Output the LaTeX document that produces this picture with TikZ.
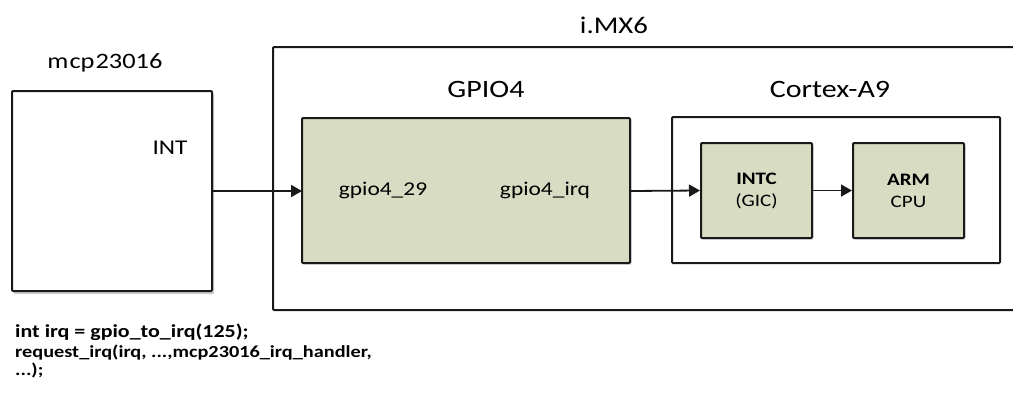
\documentclass[tikz,border=0pt]{standalone}
\usepackage{fontspec}
\setmainfont{Carlito}[FakeStretch=1.2]
\usetikzlibrary{arrows.meta,shadows}
\definecolor{boxfill}{RGB}{215,220,195}
\definecolor{linec}{RGB}{25,25,25}
\tikzset{
  frame/.style={draw=linec,line width=2pt,rounded corners=1pt},
  blockbox/.style={frame,fill=boxfill,drop shadow={shadow xshift=1.5pt,shadow yshift=-1.5pt,opacity=0.35}},
  chipbox/.style={frame,fill=white,drop shadow={shadow xshift=2pt,shadow yshift=-3pt,opacity=0.4}},
  lbl/.style={font=\fontsize{25}{27}\selectfont,inner sep=0pt},
  sig/.style={font=\fontsize{19.5}{22}\selectfont,inner sep=0pt},
  inner/.style={blockbox,minimum width=111pt,minimum height=95pt,align=center,inner sep=0pt,
    font=\fontsize{17.5}{22}\selectfont},
  conn/.style={draw=linec,line width=1.8pt,-{Triangle[length=11pt,width=12pt]}},
  code/.style={anchor=base west,inner sep=0pt},
}
\begin{document}
\begin{tikzpicture}[x=1pt,y=-1pt]
\useasboundingbox (0,0) rectangle (1013,392);
% outer i.MX6 box
\draw[frame] (273,47) rectangle (1025,310);
\node[lbl,font=\fontsize{24}{26}\selectfont] (imx) at (614,25) {i.MX6};
% mcp23016
\draw[chipbox] (12,91) rectangle (212,291);
\coordinate (mcpE) at (212,191);
\node[lbl,font=\fontsize{22}{24}\selectfont] (mcp) at (105,63) {m\kern1pt cp\kern1pt 23016};
\node[sig,font=\fontsize{21}{23}\selectfont] (int) at (170,148) {INT};
% GPIO4
\node[lbl] (gpiolbl) at (486,89) {GPIO4};
\draw[blockbox] (302,118) rectangle (630,263);
\coordinate (gpioW) at (302,191);
\coordinate (gpioE) at (630,191);
\node[sig] (g29) at (383,190) {gpio4\_29};
\node[sig] (girq) at (545,190) {gpio4\_irq};
% Cortex-A9
\node[lbl] (cortexlbl) at (830,89) {Cortex-A9};
\draw[frame] (672,117) rectangle (1000,263);
\node[inner] (intc) at (756.5,190.5) {\textbf{INTC}\\(GIC)};
\node[inner] (arm) at (908.5,190.5) {\textbf{ARM}\\CPU};
% connectors
\draw[conn] (mcpE) -- (gpioW);
\draw[conn] (gpioE) -- (intc.west);
\draw[conn] (intc.east) -- (arm.west);
% code
\node[code,font=\fontsize{18.3}{22}\selectfont\bfseries] (code1) at (15,337) {int irq = gpio\_to\_irq(125);};
\node[code,font=\fontsize{16.9}{20}\selectfont\bfseries] (code2) at (15,357) {request\_irq(irq, ...,mcp23016\_irq\_handler,};
\node[code,font=\fontsize{16.9}{20}\selectfont\bfseries] (code3) at (15,375) {...);};
\end{tikzpicture}
\end{document}
